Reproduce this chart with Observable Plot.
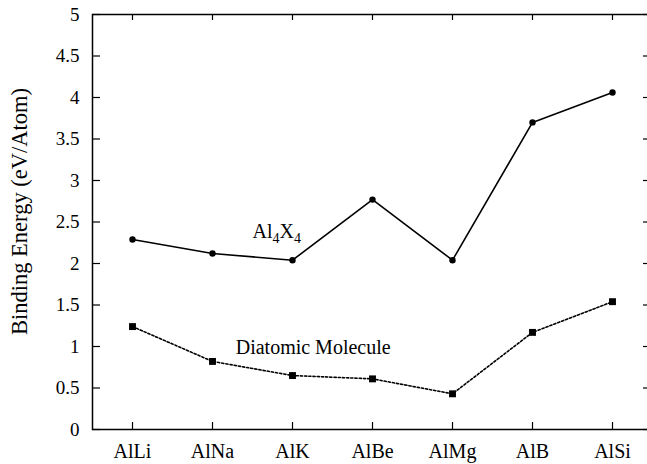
<!DOCTYPE html>
<html><head><meta charset="utf-8">
<script src="https://cdn.jsdelivr.net/npm/d3@7"></script>
<script src="https://cdn.jsdelivr.net/npm/@observablehq/plot@0.6"></script>
<style>
html,body{margin:0;padding:0;background:#fff;overflow:hidden}
</style>
</head><body><div id="chart"></div>
<script>
const categories = ["AlLi", "AlNa", "AlK", "AlBe", "AlMg", "AlB", "AlSi"];
const al4x4 = [2.29, 2.12, 2.04, 2.77, 2.04, 3.70, 4.06];
const diatomic = [1.24, 0.82, 0.65, 0.61, 0.43, 1.17, 1.54];
const yTicks = [0, 0.5, 1, 1.5, 2, 2.5, 3, 3.5, 4, 4.5, 5];
const yLabel = "Binding Energy (eV/Atom)";
const seriesLabels = ["Al4X4", "Diatomic Molecule"];

const rowsA = categories.map((c, i) => ({i, cat: c, v: al4x4[i]}));
const rowsD = categories.map((c, i) => ({i, cat: c, v: diatomic[i]}));
const idx = categories.map((c, i) => i);
const serif = "Liberation Serif";

const plot = Plot.plot({
  width: 647, height: 464,
  marginLeft: 92, marginRight: -5, marginTop: 14, marginBottom: 35,
  style: {fontFamily: serif, fontSize: "20px"},
  x: {type: "linear", domain: [-0.5, 6.5], axis: null},
  y: {domain: [0, 5], axis: null},
  marks: [
    Plot.frame({stroke: "black", strokeWidth: 1.5}),
    Plot.tickY(yTicks, {y: d => d, stroke: "black", strokeWidth: 1.2, insetRight: 552}),
    Plot.tickY(yTicks, {y: d => d, stroke: "black", strokeWidth: 1.2, insetLeft: 551}),
    Plot.tickX(idx, {x: d => d, stroke: "black", strokeWidth: 1.2, insetTop: 408}),
    Plot.tickX(idx, {x: d => d, stroke: "black", strokeWidth: 1.2, insetBottom: 409}),
    Plot.axisY({ticks: yTicks, tickSize: 0, tickPadding: 13, tickFormat: d => String(d), fontSize: 19, fontFamily: serif, label: null}),
    Plot.axisX({ticks: idx, tickSize: 0, tickPadding: 14, tickFormat: i => categories[i], fontSize: 20, fontFamily: serif, label: null}),
    Plot.text([yLabel], {frameAnchor: "left", rotate: -90, dx: -73, dy: -10.5, textAnchor: "middle", lineAnchor: "middle", fontSize: 22.5, fontFamily: serif}),
    Plot.line(rowsA, {x: "i", y: "v", stroke: "black", strokeWidth: 1.6}),
    Plot.dot(rowsA, {x: "i", y: "v", r: 3.2, fill: "black", stroke: null}),
    Plot.line(rowsD, {x: "i", y: "v", stroke: "black", strokeWidth: 1.6, strokeDasharray: "2.2,2"}),
    Plot.dot(rowsD, {x: "i", y: "v", r: 3.9, symbol: "square", fill: "black", stroke: null}),
    Plot.text([seriesLabels[0]], {x: 1.5, y: 2.31, textAnchor: "start", lineAnchor: "bottom", fontSize: 20, fontFamily: serif}),
    Plot.text([seriesLabels[1]], {x: 1.29, y: 0.915, textAnchor: "start", lineAnchor: "bottom", fontSize: 20, fontFamily: serif})
  ]
});
document.getElementById("chart").appendChild(plot);
plot.querySelectorAll("text").forEach(t => {
  t.style.fontFamily = '"Liberation Serif", serif';
  if (t.textContent === "Al4X4") {
    t.textContent = "";
    const ns = "http://www.w3.org/2000/svg";
    const parts = [["Al", 0, null], ["4", 5, 14], ["X", -5, null], ["4", 5, 14]];
    parts.forEach(([s, dy, fs]) => {
      const ts = document.createElementNS(ns, "tspan");
      ts.textContent = s;
      if (dy) ts.setAttribute("dy", dy);
      if (fs) ts.setAttribute("font-size", fs);
      t.appendChild(ts);
    });
  }
});
</script>
</body></html>
